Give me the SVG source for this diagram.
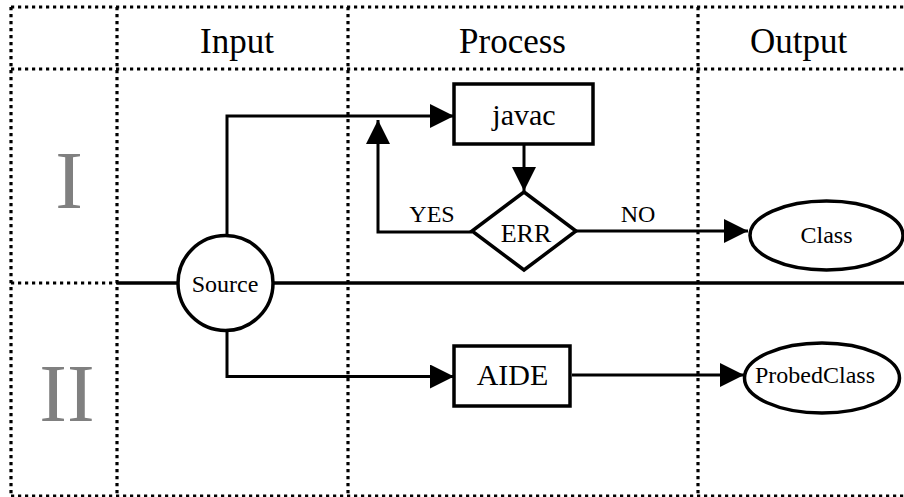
<svg xmlns="http://www.w3.org/2000/svg" width="904" height="497" viewBox="0 0 904 497">
  <style>
    .grid{stroke:#000;stroke-width:3.2;stroke-dasharray:3.2 3.8;fill:none}
    .lane{stroke:#000;stroke-width:3.5;fill:none}
    .edge{stroke:#000;stroke-width:3;fill:none}
    .shape{fill:#fff;stroke:#000;stroke-width:3.5}
    text{font-family:"Liberation Serif","Times New Roman",serif;fill:#000;text-anchor:middle}
    .hdr{font-size:35px}
    .roman{font-size:83px;fill:#808080}
    .lbl{font-size:24px}
    .big{font-size:30px}
    .err{font-size:26px}
  </style>
  <defs>
    <marker id="arrow" viewBox="0 0 24 24" markerWidth="24" markerHeight="24" refX="24" refY="12" orient="auto" markerUnits="userSpaceOnUse">
      <path d="M0,0 L24,12 L0,24 z" fill="#000"/>
    </marker>
  </defs>

  <!-- swimlane grid -->
  <g id="grid">
    <line class="grid" x1="11" y1="7" x2="904" y2="7"/>
    <line class="grid" x1="11" y1="69" x2="904" y2="69"/>
    <line class="grid" x1="11" y1="283" x2="117" y2="283"/>
    <line class="grid" x1="11" y1="496" x2="904" y2="496"/>
    <line class="grid" x1="11" y1="7" x2="11" y2="496"/>
    <line class="grid" x1="117" y1="7" x2="117" y2="496"/>
    <line class="grid" x1="348" y1="7" x2="348" y2="496"/>
    <line class="grid" x1="698" y1="7" x2="698" y2="496"/>
    <line class="lane" x1="117" y1="283" x2="904" y2="283"/>
  </g>

  <!-- column and row headings -->
  <g id="headings">
    <text class="hdr" x="237" y="52.5">Input</text>
    <text class="hdr" x="512.5" y="53">Process</text>
    <text class="hdr" x="798.5" y="53">Output</text>
    <text class="roman" x="69" y="208">I</text>
    <text class="roman" x="67" y="421">II</text>
  </g>

  <!-- connectors -->
  <g id="connectors">
    <path class="edge" d="M227,236 V116 H454" marker-end="url(#arrow)"/>
    <path class="edge" d="M524,145 V191" marker-end="url(#arrow)"/>
    <path class="edge" d="M472,232 H378 V120" marker-end="url(#arrow)"/>
    <path class="edge" d="M576,231 H748" marker-end="url(#arrow)"/>
    <path class="edge" d="M227,330 V376.5 H454" marker-end="url(#arrow)"/>
    <path class="edge" d="M572,375 H744" marker-end="url(#arrow)"/>
    <text class="lbl" x="432" y="222">YES</text>
    <text class="lbl" x="638" y="222">NO</text>
  </g>

  <g id="source">
    <circle class="shape" cx="225.5" cy="283" r="47.5"/>
    <text class="lbl" x="225" y="292">Source</text>
  </g>

  <g id="javac">
    <rect class="shape" x="454" y="84" width="139" height="60"/>
    <text class="big" x="524" y="125">javac</text>
  </g>

  <g id="err">
    <polygon class="shape" points="524,192 576,231 524,270 472,231"/>
    <text class="err" x="526" y="242">ERR</text>
  </g>

  <g id="class">
    <ellipse class="shape" cx="826.5" cy="235.5" rx="76.5" ry="34.5"/>
    <text class="lbl" x="826.5" y="243">Class</text>
  </g>

  <g id="aide">
    <rect class="shape" x="454" y="346" width="116" height="60"/>
    <text class="big" x="512.5" y="385">AIDE</text>
  </g>

  <g id="probedclass">
    <ellipse class="shape" cx="822" cy="378" rx="77.5" ry="35"/>
    <text class="lbl" x="815" y="383">ProbedClass</text>
  </g>
</svg>
